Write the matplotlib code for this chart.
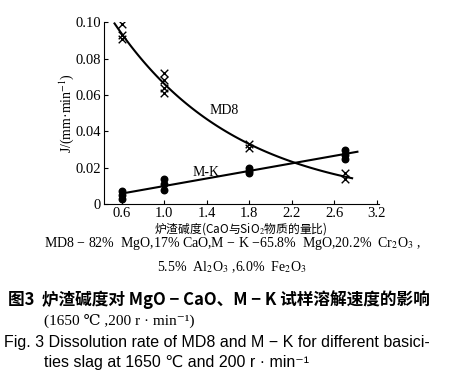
import numpy as np
import matplotlib
matplotlib.use("Agg")
import matplotlib.pyplot as plt

plt.rcParams['font.family'] = ['Liberation Serif', 'Noto Sans CJK SC', 'DejaVu Sans']
plt.rcParams['mathtext.fontset'] = 'stix'

# data
md8_x = [0.6, 0.6, 0.6, 1.0, 1.0, 1.0, 1.0, 1.8, 1.8, 2.7, 2.7]
md8_y = [0.099, 0.093, 0.091, 0.072, 0.068, 0.064, 0.061, 0.033, 0.031, 0.017, 0.014]
mk_x = [0.6, 0.6, 0.6, 1.0, 1.0, 1.0, 1.8, 1.8, 1.8, 2.7, 2.7, 2.7]
mk_y = [0.007, 0.005, 0.003, 0.014, 0.011, 0.008, 0.020, 0.018, 0.017, 0.030, 0.027, 0.025]
tick_pos = [0.6, 1.0, 1.4, 1.8, 2.2, 2.6, 3.0]
tick_labels = ["0.6", "1.0", "1.4", "1.8", "2.2", "2.6", "3.2"]

fig = plt.figure(figsize=(4.64, 3.76), dpi=100)
ax = fig.add_axes([0.224, 0.457, 0.592, 0.484])

# fitted trend lines
k, b = np.polyfit(md8_x, np.log(md8_y), 1)
xs = np.linspace(0.53, 2.77, 100)
ax.plot(xs, np.exp(k * xs + b), color='black', lw=1.5)
m, c = np.polyfit(mk_x, mk_y, 1)
xl = np.array([0.6, 2.82])
ax.plot(xl, m * xl + c, color='black', lw=1.5)

ax.scatter(md8_x, md8_y, marker='x', color='black', s=30, lw=1.0, zorder=3)
ax.scatter(mk_x, mk_y, marker='o', color='black', s=22, zorder=3)

ax.text(1.56, 0.0516, "MD8", fontsize=10, ha='center', va='center')
ax.text(1.39, 0.0176, "M-K", fontsize=10, ha='center', va='center')

ax.set_xlim(0.43, 3.02)
ax.set_ylim(0, 0.1)
ax.set_xticks(tick_pos)
ax.set_xticklabels(tick_labels)
ax.set_yticks([0, 0.02, 0.04, 0.06, 0.08, 0.10])
ax.set_yticklabels(["0", "0.02", "0.04", "0.06", "0.08", "0.10"])
ax.tick_params(direction='in', length=3, labelsize=10.5, pad=2)
for s in ['top', 'right']:
    ax.spines[s].set_visible(False)
ax.set_ylabel("J/(mm·min$^{-1}$)", fontsize=10, labelpad=0)
ax.set_xlabel("炉渣碱度(CaO与SiO$_2$物质的量比)", fontsize=8.5, labelpad=0,
              family=['Noto Sans CJK SC', 'DejaVu Sans'])

fig.text(0.5, 1 - 244 / 376, "MD8 − 82%  MgO,17% CaO,M − K −65.8%  MgO,20.2%  Cr$_2$O$_3$ ,",
         ha='center', va='center', fontsize=10)
fig.text(0.5, 1 - 267 / 376, "5.5%  Al$_2$O$_3$ ,6.0%  Fe$_2$O$_3$",
         ha='center', va='center', fontsize=10)
fig.text(0.018, 1 - 300 / 376, "图3  炉渣碱度对 MgO − CaO、M − K 试样溶解速度的影响",
         ha='left', va='center', fontsize=12, weight='bold',
         family=['Noto Sans CJK SC', 'DejaVu Sans'])
fig.text(0.095, 1 - 321 / 376, "(1650 ℃ ,200 r · min⁻¹)",
         ha='left', va='center', fontsize=11, family=['Liberation Serif', 'DejaVu Serif'])
fig.text(0.008, 1 - 343 / 376, "Fig. 3 Dissolution rate of MD8 and M − K for different basici-",
         ha='left', va='center', fontsize=11.5, family=['Liberation Sans', 'DejaVu Sans'])
fig.text(0.095, 1 - 363 / 376, "ties slag at 1650 ℃ and 200 r · min⁻¹",
         ha='left', va='center', fontsize=11.5, family=['Liberation Sans', 'DejaVu Sans'])

fig.savefig("out.png", dpi=100)
